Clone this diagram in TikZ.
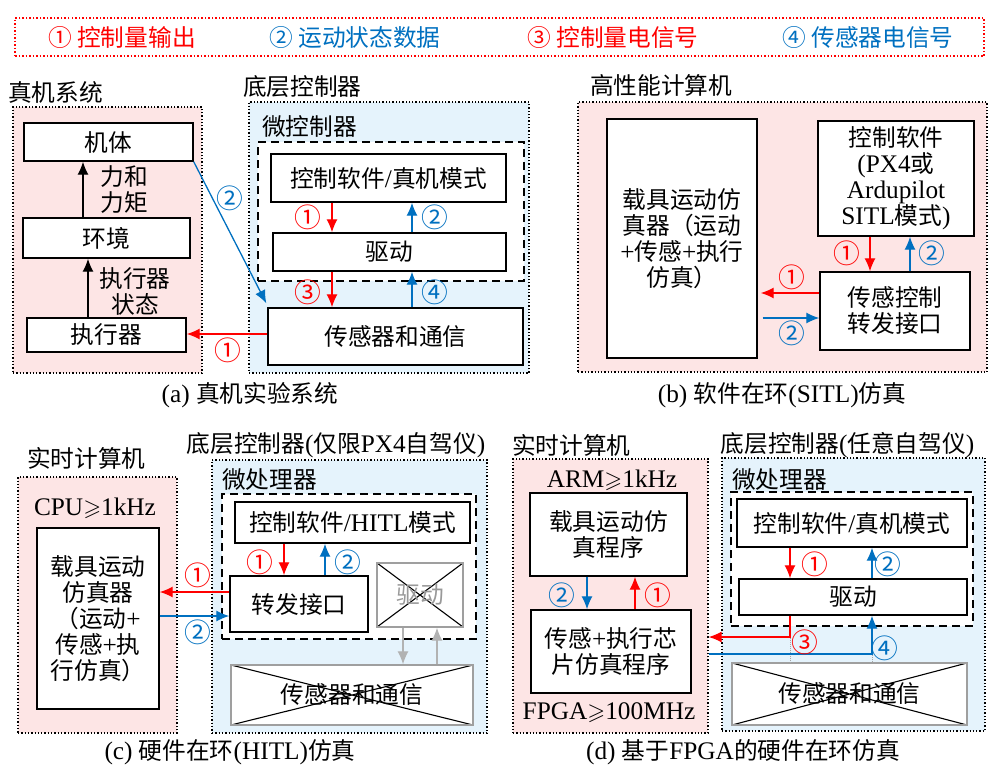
\documentclass[tikz,border=0pt]{standalone}
\usepackage{amssymb}
\usepackage{fontspec}
\setmainfont{Liberation Serif}[Scale=1.1]
\newfontfamily\cjk{Noto Sans CJK SC}[Scale=1.03]
\newcommand{\en}[1]{{\rmfamily #1}}
\usetikzlibrary{arrows.meta}
\definecolor{sigred}{RGB}{255,0,0}
\definecolor{sigblue}{RGB}{0,112,192}
\definecolor{hostpink}{RGB}{253,229,229}
\definecolor{mcublue}{RGB}{229,243,252}
\tikzset{
  txt/.style={inner sep=0pt,align=center},
  blk/.style={draw,fill=white,line width=1.4pt,inner sep=0pt,align=center},
  xblk/.style={draw=gray!75,fill=white,line width=1.4pt,inner sep=0pt,align=center,
    path picture={\draw[black,line width=1.1pt]
      (path picture bounding box.north west) -- (path picture bounding box.south east)
      (path picture bounding box.north east) -- (path picture bounding box.south west);}},
  host/.style={draw,fill=hostpink,line width=1.3pt,dash pattern=on 1.3pt off 2pt,inner sep=0pt},
  mcu/.style={host,fill=mcublue},
  core/.style={draw,fill=white,line width=1.4pt,dash pattern=on 8pt off 5pt,inner sep=0pt},
  redsig/.style={->,sigred,line width=1.3pt},
  bluesig/.style={->,sigblue,line width=1.3pt},
  graysig/.style={->,gray!60,line width=1.3pt},
  tagr/.style={txt,text=sigred,font=\fontsize{26pt}{28pt}\cjk},
  tagb/.style={txt,text=sigblue,font=\fontsize{26pt}{28pt}\cjk}
}
\begin{document}
\begin{tikzpicture}[x=1pt,y=-1pt,>={Latex[length=13pt,width=11pt]},
  every node/.style={font=\fontsize{23pt}{26pt}\cjk}]
\useasboundingbox (0,0) rectangle (997,774);

\node[draw=sigred,line width=1.5pt,dash pattern=on 1.5pt off 2pt,inner sep=0pt,
  minimum width=969pt,minimum height=38pt] (legend) at (499.5,37) {};
\node[tagr,font=\fontsize{23pt}{26pt}\cjk] (keyA) at (122,37) {① 控制量输出};
\node[tagb,font=\fontsize{23pt}{26pt}\cjk] (keyB) at (355,37) {② 运动状态数据};
\node[tagr,font=\fontsize{23pt}{26pt}\cjk] (keyC) at (613,37) {③ 控制量电信号};
\node[tagb,font=\fontsize{23pt}{26pt}\cjk] (keyD) at (868,37) {④ 传感器电信号};

\node[txt,anchor=west] (sysA) at (8,92) {真机系统};
\node[host,minimum width=189pt,minimum height=266pt] (realA) at (107.5,240) {};
\node[blk,minimum width=169pt,minimum height=38pt] (body) at (108.5,142) {机体};
\node[blk,minimum width=167pt,minimum height=40pt] (env) at (106.5,238) {环境};
\node[blk,minimum width=159pt,minimum height=34pt] (act) at (106.5,335) {执行器};
\draw[->,line width=1.3pt] ([xshift=-23.5pt]env.north) -- ([xshift=-23.5pt]env.north |- body.south);
\draw[->,line width=1.3pt] ([xshift=-18.5pt]act.north) -- ([xshift=-18.5pt]act.north |- env.south);
\node[txt] (force) at (124,190) {力和\\力矩};
\node[txt] (actst) at (135,291) {执行器\\状态};

\node[txt,anchor=west] (llcA) at (243,87) {底层控制器};
\node[mcu,minimum width=280pt,minimum height=271pt] (mcuA) at (389,237.5) {};
\node[txt,anchor=west] (ucA) at (262,127) {微控制器};
\node[core,minimum width=266pt,minimum height=139pt] (coreA) at (391,211.5) {};
\node[blk,minimum width=235pt,minimum height=48pt] (ctrlA) at (388.5,178) {控制软件\en{/}真机模式};
\node[blk,minimum width=233pt,minimum height=38pt] (drvA) at (389.5,252) {驱动};
\node[blk,minimum width=255pt,minimum height=57pt] (senA) at (395.5,336.5) {传感器和通信};
\draw[redsig] ([xshift=-56.5pt]ctrlA.south) -- ([xshift=-56.5pt]ctrlA.south |- drvA.north);
\draw[redsig] ([xshift=-57.5pt]drvA.south) -- ([xshift=-57.5pt]drvA.south |- senA.north);
\draw[bluesig] ([xshift=22.5pt]drvA.north) -- ([xshift=22.5pt]drvA.north |- ctrlA.south);
\draw[bluesig] ([xshift=22.5pt]drvA.south |- senA.north) -- ([xshift=22.5pt]drvA.south);
\node[tagr] (a1) at (308,217) {①};
\node[tagb] (a2) at (435,217) {②};
\node[tagr] (a3) at (308,292) {③};
\node[tagb] (a4) at (435,292) {④};
\draw[redsig] ([yshift=2.5pt]senA.west) -- ([yshift=2.5pt]senA.west -| act.east);
\node[tagr] (a5) at (228,350) {①};
\draw[bluesig] (body.south east) -- ([shift={(-1pt,4pt)}]senA.north west);
\node[tagb] (a6) at (230,198) {②};
\node[txt] (capA) at (250,395) {\en{(a) }真机实验系统};

\node[txt,anchor=west] (hpc) at (590,85) {高性能计算机};
\node[host,minimum width=409pt,minimum height=270pt] (hostB) at (782.5,237) {};
\node[blk,minimum width=150pt,minimum height=239pt] (simB) at (682,238.5) {载具运动仿\\真器（运动\\\en{+}传感\en{+}执行\\仿真）};
\node[blk,minimum width=156pt,minimum height=115pt] (ctrlB) at (896,178.5) {控制软件\\\en{(PX4}或\\\en{Ardupilot}\\\en{SITL}模式\en{)}};
\node[blk,minimum width=150pt,minimum height=78pt] (ifB) at (895,311) {传感控制\\转发接口};
\draw[redsig] ([xshift=-26pt]ctrlB.south) -- ([xshift=-26pt]ctrlB.south |- ifB.north);
\draw[bluesig] ([xshift=14pt]ctrlB.south |- ifB.north) -- ([xshift=14pt]ctrlB.south);
\node[tagr] (b1) at (847,253) {①};
\node[tagb] (b2) at (932,253) {②};
\draw[redsig,shorten >=3pt] ([yshift=18pt]ifB.west) -- ([yshift=18pt]ifB.west -| simB.east);
\draw[bluesig,shorten <=5pt] ([yshift=-7pt]ifB.west -| simB.east) -- ([yshift=-7pt]ifB.west);
\node[tagr] (b3) at (792,277) {①};
\node[tagb] (b4) at (792,333) {②};
\node[txt] (capB) at (782,395) {\en{(b) }软件在环\en{(SITL)}仿真};

\node[txt,anchor=west] (rtC) at (27,458) {实时计算机};
\node[host,minimum width=159pt,minimum height=256pt] (hostC) at (97.5,605) {};
\node[txt] (cpu) at (95,508) {\en{CPU$\geqslant$1kHz}};
\node[blk,minimum width=122pt,minimum height=181pt] (simC) at (98,618.5) {载具运动\\仿真器\\（运动\en{+}\\传感\en{+}执\\行仿真）};
\node[txt] (llcC) at (336,445) {底层控制器\en{(}仅限\en{PX4}自驾仪\en{)}};
\node[mcu,minimum width=275pt,minimum height=273pt] (mcuC) at (349.5,596.5) {};
\node[txt,anchor=west] (upC) at (222,480) {微处理器};
\node[core,minimum width=254pt,minimum height=145pt] (coreC) at (349,566.5) {};
\node[blk,minimum width=235pt,minimum height=41pt] (ctrlC) at (352.5,522.5) {控制软件\en{/HITL}模式};
\node[blk,minimum width=138pt,minimum height=56pt] (ifC) at (299,604) {转发接口};
\node[xblk,minimum width=86pt,minimum height=64pt,text=gray!80] (drvC) at (420,595) {驱动};
\node[xblk,minimum width=242pt,minimum height=60pt] (senC) at (352,695) {传感器和通信};
\draw[redsig] ([xshift=-15pt]ifC.north |- ctrlC.south) -- ([xshift=-15pt]ifC.north);
\draw[bluesig] ([xshift=26pt]ifC.north) -- ([xshift=26pt]ifC.north |- ctrlC.south);
\node[tagr] (c1) at (260,562) {①};
\node[tagb] (c2) at (348,562) {②};
\draw[graysig] ([xshift=-17pt]drvC.south) -- ([xshift=-17pt]drvC.south |- senC.north);
\draw[graysig] ([xshift=17pt]drvC.south |- senC.north) -- ([xshift=17pt]drvC.south);
\draw[redsig] ([yshift=12pt]ifC.west) -- ([yshift=12pt]ifC.west -| simC.east);
\draw[bluesig] ([yshift=-12pt]ifC.west -| simC.east) -- ([yshift=-12pt]ifC.west);
\node[tagr] (c3) at (198,575) {①};
\node[tagb] (c4) at (198,632) {②};
\node[txt] (capC) at (230,752) {\en{(c) }硬件在环\en{(HITL)}仿真};

\node[txt,anchor=west] (rtD) at (512,445) {实时计算机};
\node[host,minimum width=195pt,minimum height=274pt] (hostD) at (610.5,596) {};
\node[txt] (arm) at (612,480) {\en{ARM$\geqslant$1kHz}};
\node[blk,minimum width=157pt,minimum height=83pt] (simD) at (608.5,534.5) {载具运动仿\\真程序};
\node[blk,minimum width=160pt,minimum height=83pt] (chipD) at (611,651.5) {传感\en{+}执行芯\\片仿真程序};
\node[txt] (fpga) at (609,713) {\en{FPGA$\geqslant$100MHz}};
\draw[bluesig] ([xshift=-21.5pt]simD.south) -- ([xshift=-21.5pt]simD.south |- chipD.north);
\draw[redsig] ([xshift=26.5pt]simD.south |- chipD.north) -- ([xshift=26.5pt]simD.south);
\node[tagb] (d1) at (562,595) {②};
\node[tagr] (d2) at (658,595) {①};
\node[txt] (llcD) at (847.5,445) {底层控制器\en{(}任意自驾仪\en{)}};
\node[mcu,minimum width=263pt,minimum height=273pt] (mcuD) at (853.5,594.5) {};
\node[txt,anchor=west] (upD) at (732,480) {微处理器};
\node[core,minimum width=242pt,minimum height=134pt] (coreD) at (852,559) {};
\node[blk,minimum width=230pt,minimum height=48pt] (ctrlD) at (852,523) {控制软件\en{/}真机模式};
\node[blk,minimum width=228pt,minimum height=36pt] (drvD) at (853,597) {驱动};
\node[xblk,minimum width=235pt,minimum height=62pt] (senD) at (849.5,694) {传感器和通信};
\draw[redsig] ([xshift=-63pt]drvD.north |- ctrlD.south) -- ([xshift=-63pt]drvD.north);
\draw[bluesig] ([xshift=19pt]drvD.north) -- ([xshift=19pt]drvD.north |- ctrlD.south);
\node[tagr] (d3) at (815,564) {①};
\node[tagb] (d4) at (888,564) {②};
\draw[gray!70,line width=1pt,densely dotted] ([xshift=-63pt]drvD.south) ++(0,22) -- ([xshift=-63pt]drvD.south |- senD.north);
\draw[gray!70,line width=1pt,densely dotted] ([xshift=19pt]drvD.south) ++(0,39) -- ([xshift=19pt]drvD.south |- senD.north);
\draw[redsig] ([xshift=-63pt]drvD.south) |- ([yshift=14.5pt]chipD.east -| hostD.east);
\draw[bluesig] ([yshift=-2.5pt]chipD.east -| hostD.east) -| ([xshift=19pt]drvD.south);
\node[tagr] (d5) at (805,642) {③};
\node[tagb] (d6) at (885,648) {④};
\node[txt] (capD) at (743,752) {\en{(d) }基于\en{FPGA}的硬件在环仿真};
\end{tikzpicture}
\end{document}
